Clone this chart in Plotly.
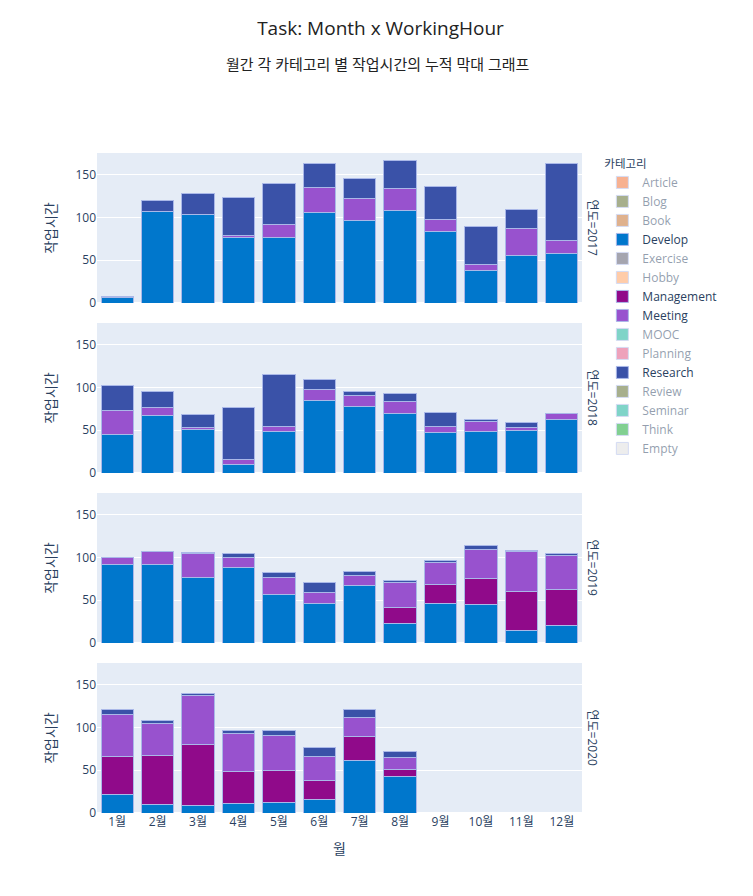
import plotly.graph_objects as go
from plotly.subplots import make_subplots

months = ["1월", "2월", "3월", "4월", "5월", "6월", "7월", "8월", "9월", "10월", "11월", "12월"]
years = ["2017", "2018", "2019", "2020"]
categories = ["Article", "Blog", "Book", "Develop", "Exercise", "Hobby", "Management",
              "Meeting", "MOOC", "Planning", "Research", "Review", "Seminar", "Think", "Empty"]
visible_categories = ["Develop", "Management", "Meeting", "Research"]

colors = {
    "Article": "#EF6525", "Blog": "#51611D", "Book": "#BF651D", "Develop": "#0077CC",
    "Exercise": "#4D4D61", "Hobby": "#FF9955", "Management": "#900A8A", "Meeting": "#9852CE",
    "MOOC": "#01A991", "Planning": "#DD4579", "Research": "#3A52A8", "Review": "#51611D",
    "Seminar": "#01A991", "Think": "#05A125", "Empty": "#DBDBDB",
}

# hours per month, by year
develop = {
    "2017": [6, 107, 103, 76.5, 76.5, 106, 96, 108, 83, 38, 55.5, 58],
    "2018": [45.5, 67, 51, 10, 48.5, 85, 78, 69.5, 47, 48.5, 49.5, 63],
    "2019": [92, 91.5, 76.5, 88, 56.5, 46, 67, 22.5, 46.5, 45.5, 15, 20],
    "2020": [22, 10, 8.5, 11, 12, 15.5, 61, 42.5, None, None, None, None],
}
management = {
    "2017": [0, 0, 0, 0, 0, 0, 0, 0, 0, 0, 0, 0],
    "2018": [0, 0, 0, 0, 0, 0, 0, 0, 0, 0, 0, 0],
    "2019": [0, 0, 0, 0, 0, 0, 0, 19.5, 22, 29.5, 45, 42],
    "2020": [44.5, 57, 71, 37.5, 37.5, 22.5, 28.5, 8, None, None, None, None],
}
meeting = {
    "2017": [0, 0, 0, 2, 15, 29, 26, 25.5, 14, 7, 31.5, 15.5],
    "2018": [27.5, 10, 2.5, 6, 6, 13, 12, 13.5, 7.5, 12, 4, 7],
    "2019": [8, 15.5, 27.5, 12, 20.5, 12.5, 12, 28.5, 26, 34.5, 47, 40],
    "2020": [49, 38, 58, 44.5, 41, 28, 22.5, 14, None, None, None, None],
}
research = {
    "2017": [2, 13, 25, 44.5, 48, 28, 24, 33, 39, 44.5, 22, 89],
    "2018": [29, 18, 15, 60, 61, 11, 5.5, 10, 16, 2, 5, 0],
    "2019": [0, 0, 1.5, 4, 5, 12, 4, 2, 1.5, 4.5, 1, 3],
    "2020": [5, 3, 2, 3.5, 5.5, 10, 8.5, 7.5, None, None, None, None],
}
hidden_zero = [0] * 12
series = {"Develop": develop, "Management": management, "Meeting": meeting, "Research": research}

fig = make_subplots(rows=4, cols=1, shared_xaxes=True, vertical_spacing=20 / 660)

for r, yr in enumerate(years, start=1):
    for cat in categories:
        vals = series[cat][yr] if cat in series else hidden_zero
        fig.add_trace(go.Bar(
            x=months, y=vals, name=cat, legendgroup=cat, showlegend=(r == 1),
            marker=dict(color=colors[cat], line=dict(color="#aab8e8", width=1)),
            visible=True if cat in visible_categories else "legendonly",
        ), row=r, col=1)
    fig.update_yaxes(title_text="작업시간", row=r, col=1, matches="y",
                     tickvals=[0, 50, 100, 150])
    fig.add_annotation(text="연도=" + yr, textangle=90, xref="paper", x=1, xanchor="left",
                       xshift=0, yref=f"y{'' if r == 1 else r} domain", y=0.5,
                       showarrow=False, font=dict(size=12, color="#2a3f5f"))

fig.add_annotation(text="월간 각 카테고리 별 작업시간의 누적 막대 그래프", xref="paper", yref="paper",
                   x=0.579, y=1.1348, xanchor="center", yanchor="middle", showarrow=False,
                   font=dict(size=15, color="#222222"))

fig.update_xaxes(showgrid=False, categoryorder="array", categoryarray=months)
fig.update_xaxes(title_text="월", row=4, col=1)

fig.update_layout(
    template="plotly",
    width=745, height=888,
    barmode="stack", bargap=0.2,
    margin=dict(l=89, r=171, t=145, b=83),
    title=dict(text="Task: Month x WorkingHour", x=0.5, xanchor="center", y=0.9775,
               yanchor="middle", font=dict(size=19, color="#222222")),
    legend=dict(title=dict(text="카테고리", font=dict(size=11.5)), x=1.042, y=1.0,
                yanchor="top", tracegroupgap=0),
    font=dict(family="Open Sans, Noto Sans CJK KR, sans-serif"),
)

fig.write_html("out.html")
